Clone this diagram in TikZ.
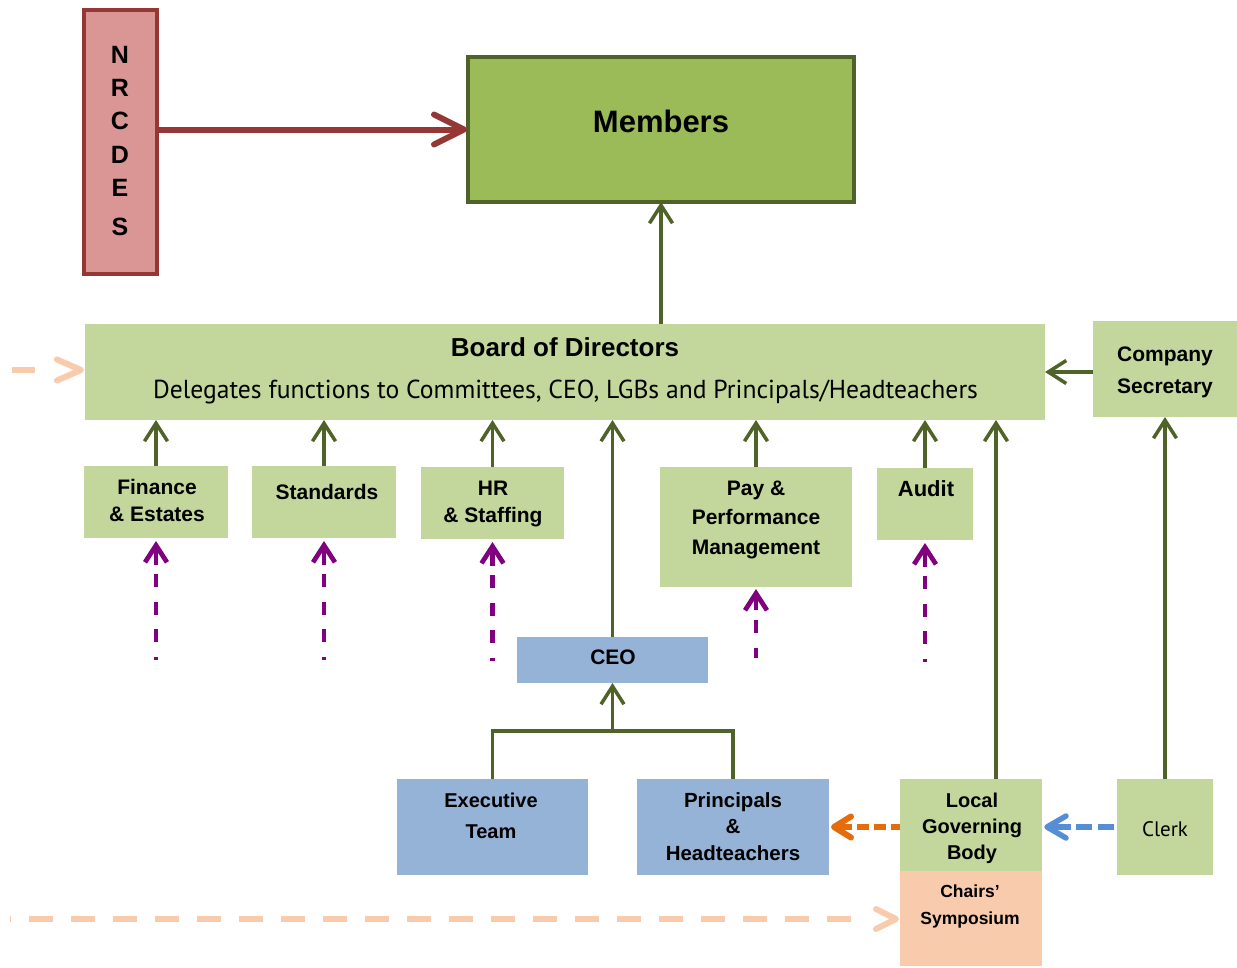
\documentclass[tikz,border=0pt]{standalone}
\usepackage{fontspec}
\setmainfont{Liberation Sans}
\newfontfamily\hum{PT Sans}
\usetikzlibrary{arrows.meta,calc}
\definecolor{lgreen}{HTML}{C3D69B}
\definecolor{mgreen}{HTML}{9BBB59}
\definecolor{dgreen}{HTML}{4F6228}
\definecolor{lblue}{HTML}{95B3D7}
\definecolor{peach}{HTML}{F8CBAD}
\definecolor{pinkbox}{HTML}{D99694}
\definecolor{dred}{HTML}{953735}
\definecolor{purp}{HTML}{800080}
\definecolor{orng}{HTML}{E46C0A}
\definecolor{dblue}{HTML}{558ED5}
\newsavebox\delbox
\begin{document}
\sbox\delbox{\hum\fontsize{26}{30}\selectfont Delegates functions to Committees, CEO, LGBs and Principals/Headteachers}%
\pgfmathsetmacro\delscale{825/\the\wd\delbox}%
\begin{tikzpicture}[x=1pt,y=-1pt,
  box/.style={inner sep=0pt,outer sep=0pt},
  lbl/.style={inner sep=0pt,align=center,font=\bfseries\fontsize{21}{27}\selectfont},
  garrow/.style={draw=dgreen,line width=3.5pt,-{Straight Barb[length=18pt,width=23pt]}},
  gline/.style={draw=dgreen,line width=3.5pt},
  chev/.style={line cap=round,line join=round},
  pdash/.style={draw=purp,line width=4.7pt,dash pattern=on 13pt off 14.5pt},
  phead/.style={draw=purp,line width=4.7pt,-{Straight Barb[length=17pt,width=22pt]}},
]
\fill[white] (0,0) rectangle (1237,967);
\useasboundingbox (0,0) rectangle (1237,967);

% boxes
\node[box,fill=pinkbox,draw=dred,line width=4pt,minimum width=73pt,minimum height=264pt] (nrc) at (120.5,142) {};
\node[inner sep=0pt,align=center,font=\bfseries\fontsize{25}{33.25}\selectfont] (nrct) at (120,141) {N\\R\\C\\D\\E\\[5.75pt]S};
\node[box,fill=mgreen,draw=dgreen,line width=4pt,minimum width=386pt,minimum height=145pt] (mem) at (661,129.5) {};
\node[inner sep=0pt,font=\bfseries\fontsize{31}{36}\selectfont] (memt) at (661,121) {Members};

\node[box,fill=lgreen,minimum width=960pt,minimum height=96pt] (board) at (565,372) {};
\node[inner sep=0pt,font=\bfseries\fontsize{26}{30}\selectfont] (boardt) at (565,347) {Board of Directors};
\node[inner sep=0pt] (delt) at (565.5,392) {\scalebox{\delscale}[1]{\usebox\delbox}};

\node[box,fill=lgreen,minimum width=144pt,minimum height=96pt] (cs) at (1165,369) {};
\node[lbl,font=\bfseries\fontsize{21}{32}\selectfont] (cst) at (1165,372) {Company\\Secretary};

\node[box,fill=lgreen,minimum width=144pt,minimum height=72pt] (fin) at (156,502) {};
\node[lbl] (fint) at (157,500.5) {Finance\\\& Estates};
\node[box,fill=lgreen,minimum width=144pt,minimum height=72pt] (std) at (324,502) {};
\node[lbl] (stdt) at (327,492) {Standards};
\node[box,fill=lgreen,minimum width=143pt,minimum height=72pt] (hr) at (492.5,503) {};
\node[lbl] (hrt) at (493,503.5) {HR\\\& Staffing};
\node[box,fill=lgreen,minimum width=192pt,minimum height=120pt] (pay) at (756,527) {};
\node[lbl,font=\bfseries\fontsize{21}{29.5}\selectfont] (payt) at (756,519.5) {Pay \&\\Performance\\Management};
\node[box,fill=lgreen,minimum width=96pt,minimum height=72pt] (aud) at (925,504) {};
\node[lbl,font=\bfseries\fontsize{22}{27}\selectfont] (audt) at (926,489) {Audit};

\node[box,fill=lblue,minimum width=191pt,minimum height=46pt] (ceo) at (612.5,660) {};
\node[lbl] (ceot) at (613,657) {CEO};
\node[box,fill=lblue,minimum width=191pt,minimum height=96pt] (exec) at (492.5,827) {};
\node[lbl,font=\bfseries\fontsize{20}{31}\selectfont] (exect) at (491,815.5) {Executive\\Team};
\node[box,fill=lblue,minimum width=192pt,minimum height=96pt] (prin) at (733,827) {};
\node[lbl,font=\bfseries\fontsize{20.5}{26.5}\selectfont] (print) at (733,826.5) {Principals\\\&\\Headteachers};
\node[box,fill=lgreen,minimum width=142pt,minimum height=92pt] (lgb) at (971,825) {};
\node[lbl,font=\bfseries\fontsize{20}{26}\selectfont] (lgbt) at (972,828) {Local\\Governing\\Body};
\node[box,fill=peach,minimum width=142pt,minimum height=95pt] (chairs) at (971,918.5) {};
\node[lbl,font=\bfseries\fontsize{17.5}{27}\selectfont] (chairst) at (970,906.5) {Chairs’\\Symposium};
\node[box,fill=lgreen,minimum width=96pt,minimum height=96pt] (clerk) at (1165,827) {};
\node[inner sep=0pt,font=\hum\fontsize{21}{25}\selectfont] (clerkt) at (1165,829) {Clerk};

% red arrow
\draw[dred,line width=6pt] (nrc.east |- mem.west) -- ($(mem.west)+(-4,0)$);
\draw[dred,line width=6pt,chev] ($(mem.west)+(-34,-15)$) -- ($(mem.west)+(-4,0)$) -- ($(mem.west)+(-34,15)$);

% green arrows
\draw[garrow] (board.north -| mem.south) -- (mem.south);
\draw[garrow] (board.east -| cs.west) -- (board.east);
\foreach \n in {fin,std,hr,pay,aud,ceo}
  \draw[garrow] (\n.north) -- (\n.north |- board.south);
\coordinate (lgbtop) at ($(lgb.north east)+(-46,0)$);
\draw[garrow] (lgbtop) -- (lgbtop |- board.south);
\draw[garrow] (clerk.north) -- (cs.south);
\coordinate (tj) at (612.5,731);
\draw[gline] (exec.north) |- (tj) -| (prin.north);
\draw[garrow] (tj) -- (ceo.south);

% purple dashed arrows
\foreach \n in {fin,std,hr,aud}{
  \draw[pdash] ($(\n.south)+(0,36)$) -- ($(\n.south)+(0,122)$);
  \draw[phead] ($(\n.south)+(0,27)$) -- ($(\n.south)+(0,3)$);
}
\draw[pdash] ($(pay.south)+(0,33)$) -- ($(pay.south)+(0,71)$);
\draw[phead] ($(pay.south)+(0,23)$) -- ($(pay.south)+(0,2)$);

% orange dashed arrow
\draw[orng,line width=6pt,dash pattern=on 12pt off 5pt] ($(prin.east)+(28,0)$) -- (lgb.west |- prin.east);
\draw[orng,line width=6pt] ($(prin.east)+(23,0)$) -- ($(prin.east)+(5,0)$);
\draw[orng,line width=6pt,chev] ($(prin.east)+(22,-10.5)$) -- ($(prin.east)+(5,0)$) -- ($(prin.east)+(22,10.5)$);

% blue dashed arrow
\coordinate (lgbe) at (clerk.west -| lgb.east);
\draw[dblue,line width=5.5pt,dash pattern=on 16pt off 6pt] ($(lgbe)+(34,0)$) -- (clerk.west);
\draw[dblue,line width=5.5pt] ($(lgbe)+(29,0)$) -- ($(lgbe)+(5,0)$);
\draw[dblue,line width=5.5pt,chev] ($(lgbe)+(24,-11)$) -- ($(lgbe)+(5,0)$) -- ($(lgbe)+(24,11)$);

% peach dashed arrows
\coordinate (pbs) at (10,919);
\draw[peach,line width=6pt,dash pattern=on 24pt off 18pt,dash phase=23pt] (pbs) -- ($(pbs -| chairs.west)+(-47,0)$);
\draw[peach,line width=6pt,chev] ($(pbs -| chairs.west)+(-24,-10)$) -- ($(pbs -| chairs.west)+(-4,0)$) -- ($(pbs -| chairs.west)+(-24,10)$);
\coordinate (pts) at (12,370);
\draw[peach,line width=6pt] (pts) -- ($(pts -| board.west)+(-50,0)$);
\draw[peach,line width=6pt,chev] ($(pts -| board.west)+(-28,-10.5)$) -- ($(pts -| board.west)+(-4,0)$) -- ($(pts -| board.west)+(-28,10.5)$);
\end{tikzpicture}
\end{document}
